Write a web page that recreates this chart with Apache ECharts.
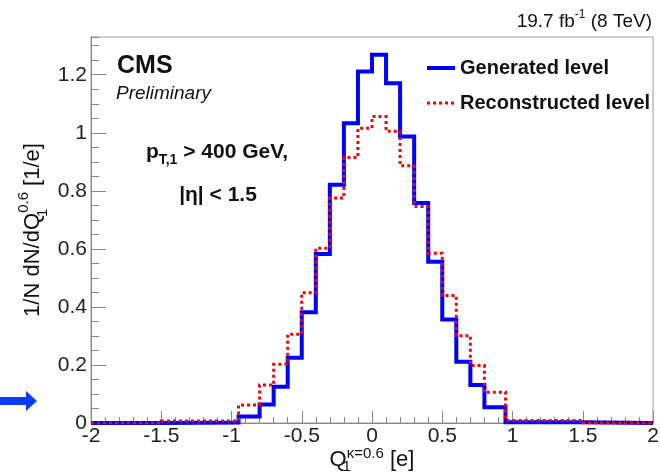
<!DOCTYPE html>
<html>
<head>
<meta charset="utf-8">
<script src="https://cdn.jsdelivr.net/npm/echarts@6/dist/echarts.min.js"></script>
<style>
html,body{margin:0;padding:0;background:#fff;}
#chart{width:660px;height:476px;}
</style>
</head>
<body>
<div id="chart"></div>
<script>
// Bin edges of the histogram (Q1^{kappa=0.6} in e)
var binEdges = [-2, -1.5, -0.95, -0.8, -0.7, -0.6, -0.5, -0.4, -0.3, -0.2, -0.1, 0, 0.1, 0.2, 0.3, 0.4, 0.5, 0.6, 0.7, 0.8, 0.95, 1.5, 2];
// Generated level, one value per bin
var generatedValues = [0, 0.002, 0.022, 0.064, 0.125, 0.225, 0.382, 0.582, 0.821, 1.033, 1.211, 1.269, 1.171, 0.987, 0.758, 0.556, 0.357, 0.211, 0.131, 0.054, 0.003, 0];
// Reconstructed level, one value per bin
var reconstructedValues = [0, 0.007, 0.062, 0.131, 0.202, 0.306, 0.449, 0.602, 0.775, 0.915, 1.016, 1.056, 1.005, 0.886, 0.746, 0.585, 0.439, 0.301, 0.198, 0.106, 0.009, 0];
var seriesNames = ['Generated level', 'Reconstructed level'];
var xTicks = { min: -2, max: 2, step: 0.5 };
var yTicks = { min: 0, max: 1.33, step: 0.2, minorStep: 0.05 };

function stepData(edges, vals) {
  var d = [];
  for (var i = 0; i < edges.length; i++) {
    d.push([edges[i], vals[Math.min(i, vals.length - 1)]]);
  }
  return d;
}

var FONT = 'Liberation Sans, Arial, sans-serif';
var BLUE_LINE = { color: '#0000ff', width: 4, type: 'solid', cap: 'butt', join: 'miter' };
var RED_LINE = { color: '#ff0000', width: 3, type: [3, 3], cap: 'butt', join: 'miter' };
var chart = echarts.init(document.getElementById('chart'), null, { renderer: 'canvas' });

var option = {
  animation: false,
  backgroundColor: '#fff',
  grid: { left: 91, top: 37, right: 7, bottom: 53, show: true, borderColor: '#999', borderWidth: 1,
    containLabel: false, outerBoundsMode: 'none' },
  legend: {
    orient: 'vertical', left: 425, top: 58, padding: 0, itemWidth: 28, itemHeight: 14, itemGap: 15,
    itemStyle: { opacity: 0 },
    textStyle: { fontFamily: FONT, fontWeight: 'bold', fontSize: 20, color: '#111', padding: [0, 0, 0, 0] },
    data: [
      { name: seriesNames[0], lineStyle: BLUE_LINE },
      { name: seriesNames[1], lineStyle: RED_LINE }
    ]
  },
  xAxis: {
    type: 'value', min: xTicks.min, max: xTicks.max, interval: xTicks.step,
    name: '{q|Q}{sub|1}{sup|κ=0.6}{n| [e]}', nameLocation: 'middle', nameGap: 23, nameMoveOverlap: false,
    nameTextStyle: {
      rich: {
        q: { fontFamily: FONT, fontSize: 22, color: '#111', lineHeight: 28 },
        n: { fontFamily: FONT, fontSize: 22, color: '#111', lineHeight: 28 },
        sub: { fontFamily: FONT, fontSize: 15, color: '#111', verticalAlign: 'bottom', width: 0.1, lineHeight: 28 },
        sup: { fontFamily: FONT, fontSize: 15, color: '#111', verticalAlign: 'top', lineHeight: 28 }
      }
    },
    axisLine: { onZero: false, lineStyle: { color: '#888', width: 1 } },
    axisTick: { inside: true, length: 12, lineStyle: { color: '#888' } },
    minorTick: { show: true, splitNumber: 5, length: 6, lineStyle: { color: '#888' } },
    splitLine: { show: false },
    axisLabel: { fontFamily: FONT, fontSize: 21, color: '#222', margin: 3,
      formatter: function (v) { return String(Math.round(v * 10) / 10); } }
  },
  yAxis: [{
    type: 'value', min: yTicks.min, max: yTicks.max, interval: yTicks.step,
    name: '{n|1/N dN/dQ}{sub|1}{sup|0.6}{n| [1/e]}', nameLocation: 'middle', nameGap: 41, nameMoveOverlap: false,
    nameTextStyle: {
      rich: {
        n: { fontFamily: FONT, fontSize: 22, color: '#111', lineHeight: 34 },
        sub: { fontFamily: FONT, fontSize: 15, color: '#111', verticalAlign: 'bottom', width: 0.1, lineHeight: 34 },
        sup: { fontFamily: FONT, fontSize: 15, color: '#111', verticalAlign: 'top', lineHeight: 34 }
      }
    },
    axisLine: { show: true, onZero: false, lineStyle: { color: '#888', width: 1 } },
    axisTick: { inside: true, length: 15, lineStyle: { color: '#888' } },
    splitLine: { show: false },
    axisLabel: { fontFamily: FONT, fontSize: 21, color: '#222', margin: 4, showMaxLabel: false,
      formatter: function (v) { var r = Math.round(v * 10) / 10; return Math.abs(r - v) > 1e-6 ? '' : String(r); } }
  }, {
    type: 'value', min: yTicks.min, max: yTicks.max, interval: yTicks.minorStep, position: 'left', offset: 0,
    axisLine: { show: false, onZero: false }, axisTick: { inside: true, length: 8, lineStyle: { color: '#888' } },
    axisLabel: { show: false }, splitLine: { show: false }
  }],
  series: [{
    name: seriesNames[0], type: 'line', step: 'end', symbol: 'none', yAxisIndex: 0,
    data: stepData(binEdges, generatedValues),
    lineStyle: BLUE_LINE,
    itemStyle: { color: '#0000ff' }, z: 2
  }, {
    name: seriesNames[1], type: 'line', step: 'end', symbol: 'none', yAxisIndex: 0,
    data: stepData(binEdges, reconstructedValues),
    lineStyle: RED_LINE,
    itemStyle: { color: '#ff0000' }, z: 3
  }],
  graphic: [
    { type: 'text', left: 117, top: 54, style: { text: 'CMS', fontFamily: FONT, fontWeight: 'bold', fontSize: 25, fill: '#111' } },
    { type: 'text', left: 116, top: 84, style: { text: 'Preliminary', fontFamily: FONT, fontStyle: 'italic', fontSize: 19, fill: '#111' } },
    { type: 'text', x: 217, y: 152, style: {
        text: '{b|p}{s|T,1}{b| > 400 GeV,}', align: 'center', verticalAlign: 'middle',
        rich: {
          b: { fontFamily: FONT, fontWeight: 'bold', fontSize: 21, fill: '#111', lineHeight: 30 },
          s: { fontFamily: FONT, fontWeight: 'bold', fontSize: 14, fill: '#111', verticalAlign: 'bottom', lineHeight: 30 }
        } } },
    { type: 'text', x: 218, y: 195, style: { text: '|η| < 1.5', align: 'center', verticalAlign: 'middle', fontFamily: FONT, fontWeight: 'bold', fontSize: 21, fill: '#111' } },
    { type: 'text', x: 652, y: 22, style: {
        text: '{n|19.7 fb}{s|-1}{n| (8 TeV)}', align: 'right', verticalAlign: 'middle',
        rich: {
          n: { fontFamily: FONT, fontSize: 19, fill: '#111', lineHeight: 26 },
          s: { fontFamily: FONT, fontSize: 12, fill: '#111', verticalAlign: 'top', lineHeight: 26 }
        } } },
    { type: 'polygon', shape: { points: [[0, 397], [26, 397], [26, 391], [37, 401], [26, 411], [26, 405], [0, 405]] },
      style: { fill: '#0b3bff' } }
  ]
};
chart.setOption(option);
</script>
</body>
</html>
